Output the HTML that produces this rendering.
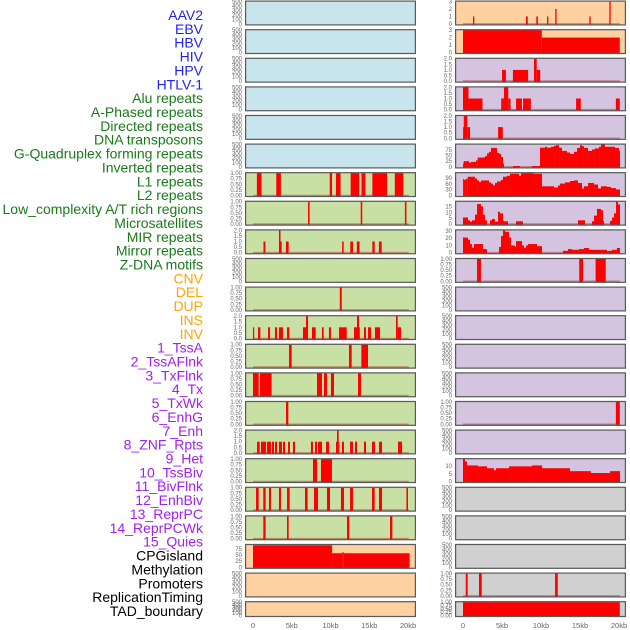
<!DOCTYPE html>
<html><head><meta charset="utf-8">
<style>
html,body{margin:0;padding:0;background:#fff;width:630px;height:630px;overflow:hidden;}
svg{display:block;font-family:"Liberation Sans",sans-serif;}
</style></head><body>
<svg id="chart" width="630" height="630" viewBox="0 0 630 630"></svg>
<script>
const trackLabels = ["AAV2","EBV","HBV","HIV","HPV","HTLV-1","Alu repeats","A-Phased repeats","Directed repeats","DNA transposons","G-Quadruplex forming repeats","Inverted repeats","L1 repeats","L2 repeats","Low_complexity A/T rich regions","Microsatellites","MIR repeats","Mirror repeats","Z-DNA motifs","CNV","DEL","DUP","INS","INV","1_TssA","2_TssAFlnk","3_TxFlnk","4_Tx","5_TxWk","6_EnhG","7_Enh","8_ZNF_Rpts","9_Het","10_TssBiv","11_BivFlnk","12_EnhBiv","13_ReprPC","14_ReprPCWk","15_Quies","CPGisland","Methylation","Promoters","ReplicationTiming","TAD_boundary"];
const labelGroups = [6,13,5,15,5];
const xTickValues = [0,5,10,15,20];
const xTickLabels = ["0","5kb","10kb","15kb","20kb"];

const ticksEmpty = ["0","100","200","300","400","500"];
const ticks1 = ["0.00","0.25","0.50","0.75","1.00"];
const ticks2 = ["0.0","0.5","1.0","1.5","2.0"];
const ticks2b = ["0.0","0.5","1.0","1.5","2.0"];

// Left column segments [startKb, endKb, value]
const L07 = [[0.5,1.1,1],[3.0,3.6,1],[9.9,10.2,1],[10.7,11.3,1],[12.6,13.7,1],[14.0,14.5,1],[15.4,17.3,1],[18.3,19.4,1]];
const L08 = [[7.1,7.3,1],[13.9,14.1,1],[19.6,19.8,1]];
const L09 = [[1.35,1.6,1],[3.35,3.55,2],[3.55,3.7,1],[4.25,4.6,1],[11.5,11.7,1],[12.55,12.9,1],[13.4,13.75,1],[15.4,15.7,1],[16.25,16.6,1]];
const L11 = [[11.2,11.45,1]];
const L12 = [[0,0.15,1],[0.65,0.95,1],[1.94,2.2,1],[2.84,3.1,1],[3.35,3.87,1],[4.39,4.69,1],[6.45,6.84,1],[6.84,7.1,2],[7.61,8.09,1],[8.9,9.12,1],[9.8,10.06,1],[11.1,12.09,1],[13.03,13.42,1],[13.42,13.68,2],[13.68,13.76,1],[14.32,14.58,1],[14.84,15.23,1],[15.74,16.39,1],[18.45,18.67,2],[18.67,19.1,1]];
const L13 = [[4.65,4.99,1],[12.39,12.73,1],[13.98,14.84,1]];
const L14 = [[0,0.73,1],[0.9,2.4,1],[8.26,8.9,1],[9.16,9.55,1],[10.06,10.45,1],[13.55,13.94,1]];
const L15 = [[4.26,4.56,1]];
const L16 = [[0.52,0.86,1],[1.03,1.68,1],[1.81,2.32,1],[2.45,2.71,1],[2.84,3.1,1],[3.35,3.74,1],[3.87,4.13,1],[4.52,4.77,1],[5.16,5.42,1],[7.48,7.74,1],[8.0,8.26,1],[8.39,8.9,1],[9.42,9.81,1],[10.71,10.84,1],[10.84,11.05,2],[11.05,11.1,1],[11.48,11.74,1],[12.52,12.9,1],[13.16,13.42,1],[14.32,14.58,1],[15.35,15.74,1],[16.26,16.65,1],[18.71,19.23,1]];
const L17 = [[7.74,8.26,1],[8.77,10.19,1]];
const L18 = [[0.39,0.73,1],[1.33,1.63,1],[2.06,2.32,1],[3.35,3.61,1],[4.39,4.73,1],[6.71,7.05,1],[7.87,8.39,1],[9.55,9.94,1],[11.35,11.74,1],[12.52,12.9,1],[15.35,15.7,1],[16.26,16.65,1],[19.8,20.0,1]];
const L19 = [[1.33,1.63,1],[4.39,4.6,1],[12.13,12.43,1],[17.68,17.98,1]];
const L20 = [[0,10.2,91],[10.2,11.5,58],[11.5,11.7,62],[11.7,20.2,58]];

// Right column segments
const R01 = [[1.28,1.45,1],[8.08,8.3,1],[9.4,9.6,1],[10.77,10.94,1],[11.83,12.0,2],[16.2,16.37,1],[18.76,18.93,3]];
const R02 = [[0,10.1,3],[10.1,20.1,2]];
const R03 = [[5.0,5.5,1],[6.4,8.35,1],[9.1,9.45,2],[9.45,9.9,1]];
const R04 = [[0,0.7,2],[0.7,2.5,1],[4.9,5.25,1],[5.25,5.8,2],[5.8,6.1,1],[6.8,7.55,1],[7.7,8.7,1],[14.5,15.1,1],[19.6,20.1,1]];
const R05 = [[0,0.1,1],[0.1,0.55,2],[0.55,0.9,1],[4.5,5.1,1]];
const R06 = [[0,0.09,15],[0.09,0.77,25],[0.77,1.03,19],[1.03,1.67,22],[1.67,1.88,29],[1.88,2.82,41],[2.82,3.08,47],[3.08,3.33,59],[3.33,3.59,66],[3.59,4.36,83],[4.36,4.62,61],[4.62,4.87,57],[4.87,5.13,43],[5.13,5.26,15],[6.41,7.31,4],[8.85,9.87,4],[9.87,10.51,84],[10.51,10.77,88],[10.77,11.28,84],[11.28,11.67,88],[11.67,11.92,92],[11.92,12.31,95],[12.31,12.69,84],[12.69,13.33,70],[13.33,13.72,63],[13.72,14.23,57],[14.23,14.62,66],[14.62,15.0,83],[15.0,15.26,95],[15.26,15.51,91],[15.51,16.03,83],[16.03,16.54,70],[16.54,16.92,76],[16.92,17.44,81],[17.44,17.69,88],[17.69,18.21,98],[18.21,19.49,88],[19.49,20.0,83],[20.0,20.13,70]];
const R07 = [[0,0.09,85],[0.09,0.34,80],[0.34,0.60,85],[0.60,1.54,96],[1.54,1.80,87],[1.80,2.05,77],[2.05,2.31,69],[2.31,3.33,77],[3.33,3.59,67],[3.59,3.85,61],[3.85,4.10,52],[4.10,4.36,64],[4.36,4.87,72],[4.87,5.13,80],[5.13,5.64,96],[5.64,6.03,101],[6.03,7.18,111],[7.18,7.44,101],[7.44,9.10,114],[9.10,10.13,111],[10.13,11.67,47],[11.67,12.18,41],[12.18,12.44,51],[12.44,13.08,61],[13.08,13.72,67],[13.72,14.23,74],[14.23,14.74,77],[14.74,15.26,64],[15.26,15.51,36],[15.51,16.03,47],[16.03,16.80,64],[16.80,17.31,56],[17.31,17.69,36],[17.69,18.46,47],[18.46,18.97,44],[18.97,19.62,38],[19.62,20.13,31]];
const R08 = [[0,0.64,5.6],[0.64,0.90,3.2],[0.90,1.15,2.1],[1.15,1.54,3.2],[1.54,1.80,8],[1.80,2.31,17],[2.31,2.56,15],[2.56,2.82,8],[2.82,3.08,3.2],[3.46,3.72,3.2],[3.72,4.10,4.3],[4.10,4.49,2.1],[4.49,4.74,10.5],[4.74,5.13,9.1],[5.13,5.26,2.7],[5.26,5.77,2.4],[6.80,7.69,2.4],[14.74,15.64,3.2],[16.54,16.80,2.4],[16.80,17.18,7.2],[17.18,17.69,12.9],[17.69,17.95,11.8],[17.95,18.08,2.7],[18.85,19.10,2.7],[19.10,19.36,5.6],[19.36,19.62,9.1],[19.62,19.87,19],[19.87,20.13,16.6]];
const R09 = [[0,0.64,21],[0.64,0.90,18],[0.90,1.15,12],[1.15,1.41,7],[1.41,2.56,12],[2.56,3.08,5],[4.62,4.87,8],[4.87,5.13,23],[5.13,5.39,31],[5.39,5.90,29],[5.90,6.15,21],[6.15,6.67,10],[6.67,6.80,8],[6.80,7.56,16],[7.56,7.82,10],[7.82,8.08,7],[8.08,8.33,10],[8.33,9.49,12],[9.49,10.13,9],[12.82,13.46,2.6],[13.46,13.98,5],[13.98,14.87,4],[14.87,15.51,5],[15.51,16.15,6.5],[16.15,18.46,4],[18.46,18.72,2.2],[18.72,19.10,2.6],[19.10,19.74,4],[19.74,20.13,6.5]];
const R10 = [[1.8,2.3,1],[14.9,15.4,1],[17.0,18.3,1]];
const R15 = [[19.6,20.1,1]];
const R17 = [[0,0.26,14.5],[0.26,0.51,13],[0.51,1.92,10.4],[1.92,3.08,9.8],[3.08,3.98,8.6],[3.98,4.23,7.3],[4.23,5.90,8.6],[5.90,8.85,9.8],[8.85,10.13,10.4],[10.13,13.72,8.6],[13.72,16.41,6.7],[16.41,18.85,5.5],[18.85,20.13,6.7]];
const R21 = [[0.35,0.6,1],[2.05,2.4,1],[11.8,12.15,1]];
const R22 = [[0,20.1,1]];

const BLUE="#c8e4ec",GREEN="#c8e0a4",PEACH="#ffd0a0",PURPLE="#d4c4e0",GRAY="#d0d0d0";
// [segments, ymax, ticks(label strings), tickValues, bg]
function T(labels, vals){return {labels:labels, vals:vals};}
const tE = T(ticksEmpty,[0,100,200,300,400,500]);
const t1 = T(ticks1,[0,0.25,0.5,0.75,1]);
const t2 = T(ticks2,[0,0.5,1,1.5,2]);
const leftPanels = [
 [null,500,tE,BLUE],[null,500,tE,BLUE],[null,500,tE,BLUE],[null,500,tE,BLUE],[null,500,tE,BLUE],[null,500,tE,BLUE],
 [L07,1,t1,GREEN],[L08,1,t1,GREEN],[L09,2,t2,GREEN],[null,500,tE,GREEN],[L11,1,t1,GREEN],[L12,2,t2,GREEN],
 [L13,1,t1,GREEN],[L14,1,t1,GREEN],[L15,1,t1,GREEN],[L16,2,t2,GREEN],[L17,1,t1,GREEN],[L18,1,t1,GREEN],[L19,1,t1,GREEN],
 [L20,92.5,T(["0","25","50","75"],[0,25,50,75]),PEACH],[null,500,tE,PEACH],[null,500,tE,PEACH]
];
const rightPanels = [
 [R01,3,T(["0","1","2","3"],[0,1,2,3]),PEACH],[R02,3,T(["0","1","2","3"],[0,1,2,3]),PEACH],
 [R03,2,t2,PURPLE],[R04,2,t2,PURPLE],[R05,2,t2,PURPLE],
 [R06,98,T(["0","25","50","75"],[0,25,50,75]),PURPLE],
 [R07,114.5,T(["0","30","60","90"],[0,30,60,90]),PURPLE],
 [R08,19,T(["0","5","10","15"],[0,5,10,15]),PURPLE],
 [R09,31,T(["0","10","20","30"],[0,10,20,30]),PURPLE],
 [R10,1,t1,PURPLE],[null,500,tE,PURPLE],[null,500,tE,PURPLE],[null,500,tE,PURPLE],[null,500,tE,PURPLE],
 [R15,1,t1,PURPLE],[null,500,tE,PURPLE],
 [R17,14.5,T(["0","5","10"],[0,5,10]),PURPLE],
 [null,500,tE,GRAY],[null,500,tE,GRAY],[null,500,tE,GRAY],[R21,1,t1,GRAY],[R22,1,t1,GRAY]
];

const NS="http://www.w3.org/2000/svg";
const svg=document.getElementById("chart");
function mk(tag,attrs,parent){const e=document.createElementNS(NS,tag);for(const k in attrs)e.setAttribute(k,attrs[k]);(parent||svg).appendChild(e);return e;}

// labels
const groupColors=["#2222ee","#1a7a1a","#ffa500","#a020f0","#000000"];
let idx=0;
labelGroups.forEach((n,g)=>{for(let i=0;i<n;i++){
  const t=mk("text",{x:203,y:15+idx*13.86+5,"text-anchor":"end","font-size":"14",fill:groupColors[g]});
  t.textContent=trackLabels[idx];
  
  
  idx++;}});

function drawColumn(panels,colX,x0,x20,tickX,colName){
  const xs=kb=>x0+(x20-x0)*kb/20;
  panels.forEach((p,i)=>{
    const [segs,ymax,ticks,bg]=p;
    const top=i*28.6+0.5;
    const h=(i===panels.length-1)?16:25;
    const g=mk("g",{});
    
    
    mk("rect",{x:colX,y:top,width:171,height:h,fill:bg},g);
    const yTop=top+1, yBot=top+h-1.6;
    const ys=v=>yBot-(yBot-yTop)*v/ymax;
    if(segs){
      segs.forEach(s=>{
        const r=mk("rect",{x:xs(s[0]),y:ys(s[2]),width:Math.max(0.8,xs(s[1])-xs(s[0])),height:yBot-ys(s[2])+0.6,fill:"#ff0000"},g);
        
        
      });
      const b=mk("line",{x1:xs(0),x2:xs(20.1),y1:yBot,y2:yBot,stroke:"rgba(170,30,30,0.45)","stroke-width":"1.6"},g);
      
      
    }
    mk("rect",{x:colX+0.6,y:top+0.6,width:169.8,height:h-1.2,fill:"none",stroke:"#5a5a5a","stroke-width":"1.2"},g);
    ticks.vals.forEach((v,k)=>{
      const t=mk("text",{x:tickX,y:ys(v)+2,"text-anchor":"end","font-size":"6",fill:"#666"},g);
      t.textContent=ticks.labels[k];
      
      
    });
  });
  xTickValues.forEach((v,k)=>{
    const t=mk("text",{x:xs(v),y:628,"text-anchor":"middle","font-size":"7.5",fill:"#666"});
    t.textContent=xTickLabels[k];
    
    
  });
}
drawColumn(leftPanels,245,253,408,242,"left");
drawColumn(rightPanels,455,463,619,452,"right");
</script>
</body></html>
